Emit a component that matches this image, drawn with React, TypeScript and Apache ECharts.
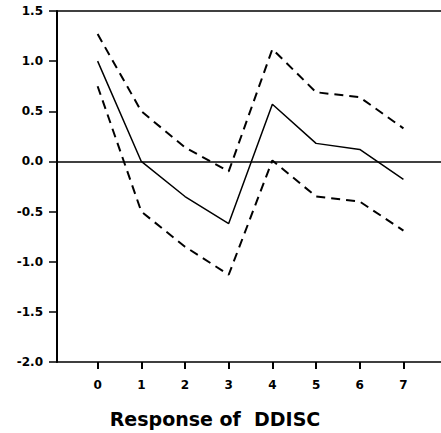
import React, { useEffect, useRef } from "react";
import * as echarts from "echarts";

const steps = [0, 1, 2, 3, 4, 5, 6, 7];
const response = [1.0, 0.0, -0.35, -0.62, 0.57, 0.18, 0.12, -0.18];
const upperBand = [1.27, 0.5, 0.14, -0.1, 1.12, 0.69, 0.64, 0.33];
const lowerBand = [0.75, -0.5, -0.85, -1.13, 0.01, -0.35, -0.4, -0.69];
const yTicks = [-2.0, -1.5, -1.0, -0.5, 0.0, 0.5, 1.0, 1.5];
const titleText = "Response of  DDISC";

const FONT = "DejaVu Sans";

export default function App() {
  const ref = useRef<HTMLDivElement>(null);
  useEffect(() => {
    document.body.style.margin = "0";
    if (!ref.current) return;
    const chart = echarts.init(ref.current, null, { renderer: "svg" });
    const pair = (vals: number[]) => steps.map((s, i) => [s, vals[i]]);
    chart.setOption({
      animation: false,
      backgroundColor: "#ffffff",
      grid: { left: 57, top: 11, width: 384, height: 351 },
      xAxis: {
        type: "value",
        min: -0.93,
        max: 7.86,
        splitLine: { show: false },
        axisLine: { show: true, onZero: false, lineStyle: { color: "#000", width: 1.5 } },
        axisTick: {
          show: true,
          inside: false,
          length: 7,
          customValues: steps,
          lineStyle: { color: "#000", width: 2 },
        },
        axisLabel: {
          customValues: steps,
          color: "#000",
          fontFamily: FONT,
          fontWeight: "bold",
          fontSize: 12,
          margin: 17,
        },
      },
      yAxis: {
        type: "value",
        min: yTicks[0],
        max: yTicks[yTicks.length - 1],
        interval: 0.5,
        splitLine: { show: false },
        axisLine: { show: true, onZero: false, lineStyle: { color: "#000", width: 2 } },
        axisTick: { show: true, inside: false, length: 8, lineStyle: { color: "#000", width: 1.5 } },
        axisLabel: {
          color: "#000",
          fontFamily: FONT,
          fontWeight: "bold",
          fontSize: 12,
          margin: 14,
          formatter: (v: number) => v.toFixed(1),
        },
      },
      graphic: [
        {
          type: "text",
          x: 215,
          y: 419,
          style: {
            text: titleText,
            fill: "#000",
            font: `bold 19px "${FONT}"`,
            textAlign: "center",
            textVerticalAlign: "middle",
          },
        },
      ],
      series: [
        {
          type: "line",
          data: pair(response),
          symbol: "none",
          lineStyle: { color: "#000", width: 1.5 },
          markLine: {
            silent: true,
            symbol: "none",
            label: { show: false },
            lineStyle: { color: "#000", width: 1.5, type: "solid" },
            data: [{ yAxis: 0 }, { yAxis: 1.5 }],
          },
        },
        {
          type: "line",
          data: pair(upperBand),
          symbol: "none",
          lineStyle: { color: "#000", width: 2, type: [9, 6] },
        },
        {
          type: "line",
          data: pair(lowerBand),
          symbol: "none",
          lineStyle: { color: "#000", width: 2, type: [9, 6] },
        },
      ],
    });
    return () => chart.dispose();
  }, []);
  return <div ref={ref} style={{ width: 441, height: 433 }} />;
}
